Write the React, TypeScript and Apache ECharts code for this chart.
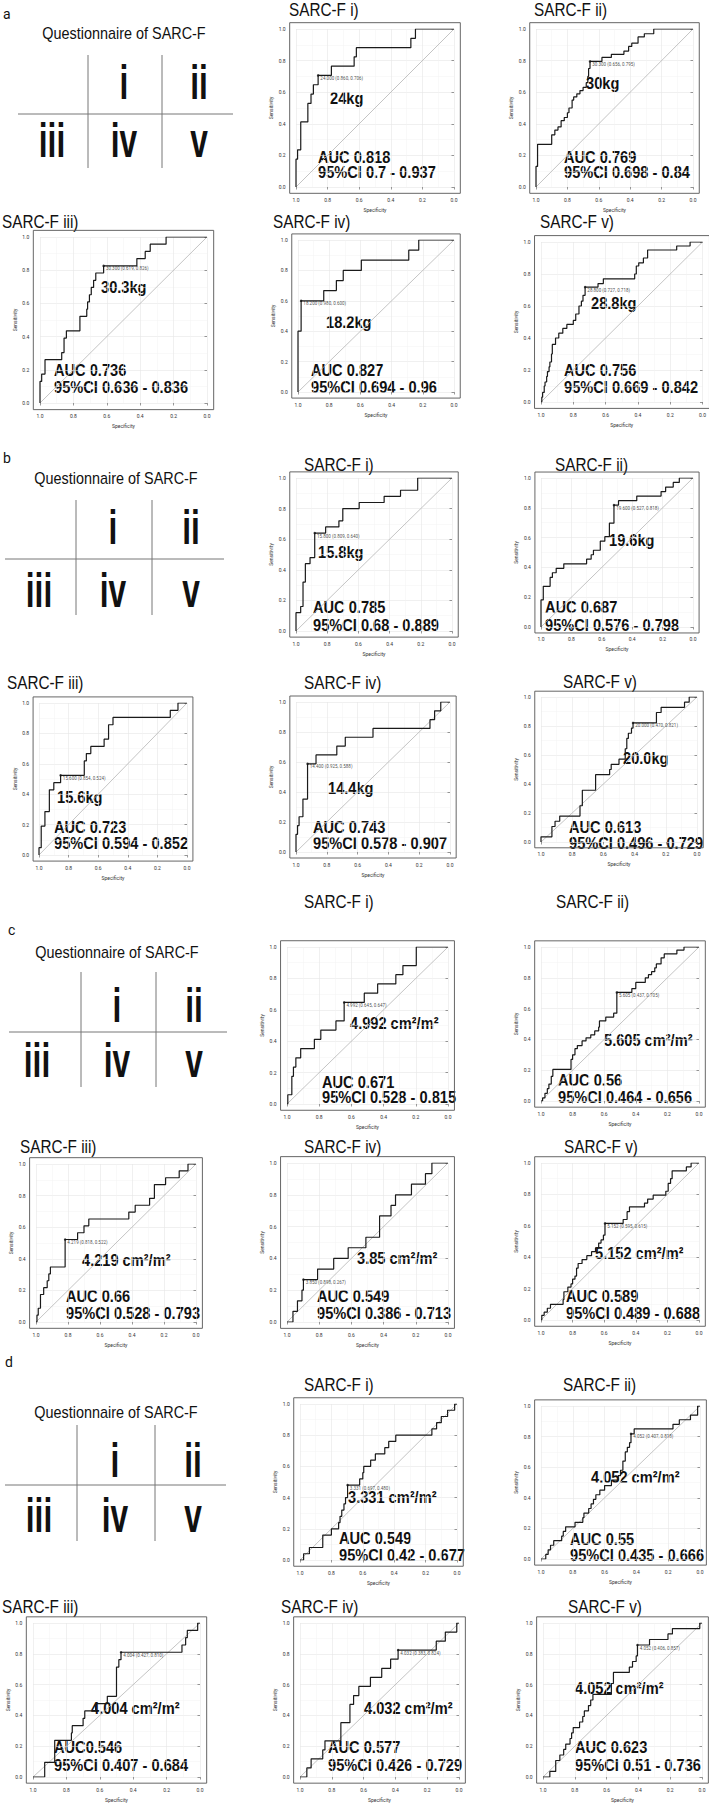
import React, { useEffect, useRef } from "react";
import * as echarts from "echarts";

const FONT = "'Liberation Sans', Arial, sans-serif";
const SMALL_FONT = "Roboto, 'Liberation Sans', sans-serif";

// ---------- ROC curves: [specificity, sensitivity] corner points ----------
const rocA1 = [[1,0],[1,0.176],[0.99,0.235],[0.97,0.412],[0.925,0.529],[0.905,0.588],[0.89,0.647],[0.86,0.706],[0.776,0.765],[0.632,0.824],[0.618,0.882],[0.273,0.941],[0.244,1],[0,1]];
const rocA2 = [[1,0],[1,0.13],[0.99,0.27],[0.9,0.33],[0.88,0.36],[0.86,0.38],[0.84,0.42],[0.82,0.44],[0.8,0.47],[0.79,0.5],[0.77,0.55],[0.76,0.57],[0.74,0.59],[0.72,0.61],[0.7,0.63],[0.68,0.66],[0.67,0.7],[0.665,0.75],[0.656,0.795],[0.58,0.82],[0.52,0.84],[0.44,0.86],[0.41,0.89],[0.39,0.91],[0.35,0.95],[0.31,0.97],[0.25,1],[0,1]];
const rocA3 = [[1,0],[1,0.13],[0.99,0.174],[0.97,0.261],[0.87,0.304],[0.856,0.391],[0.842,0.435],[0.761,0.522],[0.72,0.565],[0.715,0.609],[0.704,0.652],[0.693,0.696],[0.679,0.739],[0.666,0.783],[0.619,0.826],[0.42,0.87],[0.37,0.913],[0.34,0.957],[0.245,1],[0,1]];
const rocA4 = [[1,0],[1,0.4],[0.98,0.6],[0.835,0.667],[0.754,0.733],[0.71,0.8],[0.594,0.867],[0.29,0.933],[0.226,1],[0,1]];
const rocA5 = [[1,0],[0.995,0.03],[0.99,0.06],[0.98,0.1],[0.975,0.125],[0.965,0.16],[0.96,0.19],[0.95,0.22],[0.945,0.25],[0.935,0.3],[0.93,0.36],[0.91,0.4],[0.89,0.43],[0.865,0.46],[0.84,0.485],[0.8,0.51],[0.785,0.55],[0.765,0.6],[0.75,0.63],[0.74,0.667],[0.727,0.718],[0.647,0.74],[0.614,0.77],[0.42,0.8],[0.41,0.85],[0.395,0.87],[0.366,0.9],[0.34,0.95],[0.16,0.975],[0.077,1],[0,1]];

const rocB1 = [[1,0],[1,0.12],[0.97,0.16],[0.955,0.32],[0.94,0.44],[0.91,0.48],[0.88,0.64],[0.81,0.68],[0.725,0.72],[0.7,0.8],[0.595,0.84],[0.435,0.88],[0.33,0.92],[0.22,1],[0,1]];
const rocB2 = [[1,0],[1,0.182],[0.985,0.273],[0.94,0.333],[0.925,0.364],[0.9,0.394],[0.85,0.424],[0.7,0.455],[0.67,0.485],[0.655,0.515],[0.61,0.576],[0.58,0.606],[0.55,0.697],[0.52,0.818],[0.49,0.848],[0.37,0.879],[0.21,0.909],[0.18,0.939],[0.13,0.97],[0.09,1],[0,1]];
const rocB3 = [[1,0],[1,0.048],[0.985,0.19],[0.96,0.286],[0.93,0.429],[0.9,0.476],[0.854,0.524],[0.694,0.619],[0.68,0.667],[0.65,0.714],[0.56,0.762],[0.53,0.857],[0.5,0.905],[0.113,0.952],[0.061,1],[0,1]];
const rocB4 = [[1,0],[1,0.118],[0.99,0.176],[0.98,0.235],[0.955,0.353],[0.925,0.588],[0.87,0.647],[0.735,0.706],[0.68,0.765],[0.5,0.824],[0.13,0.882],[0.1,0.941],[0.06,1],[0,1]];
const rocB5 = [[1,0],[1,0.036],[0.93,0.107],[0.91,0.143],[0.88,0.179],[0.75,0.25],[0.735,0.357],[0.65,0.464],[0.56,0.5],[0.55,0.536],[0.5,0.571],[0.46,0.643],[0.45,0.714],[0.44,0.75],[0.42,0.786],[0.41,0.821],[0.26,0.893],[0.23,0.929],[0.08,0.964],[0.05,1],[0,1]];

const rocC1 = [[1,0],[0.995,0.059],[0.97,0.176],[0.96,0.235],[0.945,0.294],[0.915,0.353],[0.83,0.412],[0.79,0.471],[0.696,0.529],[0.645,0.647],[0.52,0.706],[0.437,0.765],[0.324,0.824],[0.28,0.882],[0.197,1],[0,1]];
const rocC2 = [[1,0],[0.99,0.02],[0.975,0.05],[0.96,0.08],[0.95,0.11],[0.935,0.16],[0.925,0.205],[0.81,0.27],[0.8,0.3],[0.785,0.34],[0.77,0.36],[0.74,0.39],[0.715,0.41],[0.685,0.43],[0.66,0.455],[0.635,0.48],[0.63,0.52],[0.59,0.545],[0.54,0.57],[0.52,0.705],[0.425,0.73],[0.4,0.77],[0.34,0.8],[0.32,0.82],[0.3,0.84],[0.28,0.865],[0.27,0.89],[0.24,0.93],[0.22,0.955],[0.14,0.98],[0.095,1],[0,1]];
const rocC3 = [[1,0],[0.994,0.043],[0.986,0.087],[0.972,0.174],[0.952,0.217],[0.93,0.261],[0.92,0.304],[0.91,0.348],[0.818,0.522],[0.74,0.565],[0.7,0.609],[0.67,0.652],[0.42,0.696],[0.38,0.739],[0.29,0.783],[0.26,0.87],[0.19,0.913],[0.105,0.957],[0.05,1],[0,1]];
const rocC4 = [[1,0],[0.963,0.067],[0.935,0.133],[0.907,0.2],[0.898,0.267],[0.81,0.333],[0.71,0.4],[0.62,0.467],[0.51,0.533],[0.425,0.667],[0.354,0.733],[0.326,0.8],[0.227,0.867],[0.14,0.933],[0.1,1],[0,1]];
const rocC5 = [[1,0],[0.995,0.03],[0.98,0.05],[0.96,0.075],[0.94,0.1],[0.86,0.13],[0.855,0.18],[0.83,0.21],[0.81,0.23],[0.8,0.26],[0.785,0.28],[0.775,0.33],[0.765,0.36],[0.74,0.385],[0.71,0.41],[0.68,0.435],[0.655,0.46],[0.635,0.49],[0.62,0.51],[0.605,0.54],[0.595,0.615],[0.48,0.64],[0.455,0.69],[0.44,0.72],[0.345,0.745],[0.325,0.77],[0.29,0.795],[0.21,0.82],[0.195,0.87],[0.18,0.9],[0.17,0.95],[0.08,0.975],[0.05,1],[0,1]];

const rocD1 = [[1,0],[0.977,0.04],[0.94,0.08],[0.855,0.16],[0.8,0.2],[0.754,0.24],[0.745,0.28],[0.734,0.32],[0.72,0.36],[0.71,0.4],[0.697,0.48],[0.62,0.52],[0.6,0.56],[0.594,0.6],[0.55,0.64],[0.52,0.68],[0.46,0.72],[0.435,0.76],[0.39,0.8],[0.16,0.84],[0.13,0.88],[0.1,0.92],[0.06,0.96],[0.015,1],[0,1]];
const rocD2 = [[1,0],[0.97,0.03],[0.955,0.06],[0.94,0.09],[0.92,0.12],[0.87,0.15],[0.86,0.18],[0.845,0.21],[0.786,0.24],[0.737,0.27],[0.73,0.3],[0.7,0.33],[0.685,0.36],[0.67,0.39],[0.655,0.42],[0.63,0.45],[0.6,0.48],[0.557,0.515],[0.514,0.545],[0.5,0.58],[0.485,0.64],[0.47,0.7],[0.457,0.73],[0.443,0.76],[0.434,0.818],[0.414,0.85],[0.17,0.88],[0.13,0.91],[0.06,0.94],[0.015,1],[0,1]];
const rocD3 = [[1,0],[0.93,0.095],[0.87,0.238],[0.77,0.286],[0.765,0.333],[0.7,0.381],[0.69,0.429],[0.625,0.476],[0.555,0.524],[0.5,0.714],[0.486,0.762],[0.473,0.81],[0.108,0.857],[0.086,0.905],[0.076,0.952],[0.014,1],[0,1]];
const rocD4 = [[1,0],[0.957,0.059],[0.93,0.118],[0.857,0.176],[0.843,0.235],[0.743,0.353],[0.686,0.471],[0.663,0.529],[0.63,0.588],[0.557,0.647],[0.486,0.706],[0.43,0.765],[0.383,0.824],[0.143,0.882],[0.086,0.941],[0.014,1],[0,1]];
const rocD5 = [[1,0],[0.957,0.036],[0.92,0.107],[0.894,0.143],[0.87,0.179],[0.857,0.214],[0.83,0.25],[0.82,0.286],[0.81,0.321],[0.77,0.357],[0.75,0.393],[0.74,0.429],[0.714,0.464],[0.7,0.5],[0.686,0.536],[0.57,0.607],[0.557,0.679],[0.457,0.714],[0.437,0.75],[0.414,0.786],[0.406,0.857],[0.33,0.893],[0.214,0.929],[0.186,0.964],[0.014,1],[0,1]];

const CURVES = [rocA1, rocA2, rocA3, rocA4, rocA5, rocB1, rocB2, rocB3, rocB4, rocB5, rocC1, rocC2, rocC3, rocC4, rocC5, rocD1, rocD2, rocD3, rocD4, rocD5];

// best thresholds: [specificity, sensitivity]
const thresholdPoints = [
  [0.86, 0.706], [0.656, 0.795], [0.619, 0.826], [0.98, 0.6], [0.727, 0.718],
  [0.88, 0.64], [0.52, 0.818], [0.854, 0.524], [0.925, 0.588], [0.41, 0.821],
  [0.645, 0.647], [0.52, 0.705], [0.818, 0.522], [0.898, 0.267], [0.595, 0.615],
  [0.697, 0.48], [0.434, 0.818], [0.473, 0.81], [0.383, 0.824], [0.406, 0.857],
];
const thresholdLabels = [
  "24.000 (0.860, 0.706)", "30.300 (0.656, 0.795)", "30.300 (0.619, 0.826)", "18.200 (0.980, 0.600)", "28.800 (0.727, 0.718)",
  "15.800 (0.809, 0.640)", "19.600 (0.527, 0.818)", "15.600 (0.854, 0.524)", "14.400 (0.925, 0.588)", "20.000 (0.470, 0.821)",
  "4.992 (0.645, 0.647)", "5.605 (0.437, 0.705)", "4.219 (0.818, 0.522)", "3.850 (0.898, 0.267)", "5.152 (0.595, 0.615)",
  "3.331 (0.697, 0.480)", "4.052 (0.407, 0.818)", "4.004 (0.427, 0.810)", "4.032 (0.383, 0.824)", "4.052 (0.406, 0.857)",
];

const plotTitles = ["SARC-F i)", "SARC-F ii)", "SARC-F iii)", "SARC-F iv)", "SARC-F v)"];
const panelLetters = ["a", "b", "c", "d"];
const cutoffs = [
  "24kg", "30kg", "30.3kg", "18.2kg", "28.8kg",
  "15.8kg", "19.6kg", "15.6kg", "14.4kg", "20.0kg",
  "4.992 cm²/m²", "5.605 cm²/m²", "4.219 cm²/m²", "3.85 cm²/m²", "5.152 cm²/m²",
  "3.331 cm²/m²", "4.052 cm²/m²", "4.004 cm²/m²", "4.032 cm²/m²", "4.052 cm²/m²",
];
const aucTexts = [
  "AUC 0.818", "AUC 0.769", "AUC 0.736", "AUC 0.827", "AUC 0.756",
  "AUC 0.785", "AUC 0.687", "AUC 0.723", "AUC 0.743", "AUC 0.613",
  "AUC 0.671", "AUC 0.56", "AUC 0.66", "AUC 0.549", "AUC 0.589",
  "AUC 0.549", "AUC 0.55", "AUC0.546", "AUC 0.577", "AUC 0.623",
];
const ciTexts = [
  "95%CI 0.7 - 0.937", "95%CI 0.698 - 0.84", "95%CI 0.636 - 0.836", "95%CI 0.694 - 0.96", "95%CI 0.669 - 0.842",
  "95%CI 0.68 - 0.889", "95%CI 0.576 - 0.798", "95%CI 0.594 - 0.852", "95%CI 0.578 - 0.907", "95%CI 0.496 - 0.729",
  "95%CI 0.528 - 0.815", "95%CI 0.464 - 0.656", "95%CI 0.528 - 0.793", "95%CI 0.386 - 0.713", "95%CI 0.489 - 0.688",
  "95%CI 0.42 - 0.677", "95%CI 0.435 - 0.666", "95%CI 0.407 - 0.684", "95%CI 0.426 - 0.729", "95%CI 0.51 - 0.736",
];
const tickLabels = ["0.0", "0.2", "0.4", "0.6", "0.8", "1.0"];
const romanCells = ["i", "ii", "iii", "iv", "v"];

// ---------- layout (pixels) ----------
// data area of each plot: [x at spec 1.0, x at spec 0.0, y at sens 1.0, y at sens 0.0]
const BOX = [
  [296, 454, 29, 187], [536, 693, 29, 187], [40, 207, 237, 403], [298, 454, 240, 392], [541, 703, 242, 402],
  [296, 452, 478, 631], [541, 693, 478, 627], [39, 187, 703, 855], [296, 450, 702, 852], [541, 697, 697, 842],
  [287, 448, 947, 1104], [541, 699, 947, 1101], [36, 196, 1164, 1322], [287, 448, 1163, 1322], [541, 699, 1163, 1320],
  [300, 457, 1404, 1560], [541, 700, 1406, 1559], [33, 200, 1623, 1777], [300, 459, 1623, 1777], [543, 702, 1623, 1777],
];
const TITLE_POS = [
  [289, 10], [534, 10], [2, 222], [273, 222], [540, 222],
  [304, 465], [555, 465], [7, 683], [304, 683], [563, 682],
  [304, 902], [556, 902], [20, 1147], [304, 1147], [564, 1147],
  [304, 1385], [563, 1385], [2, 1607], [281, 1607], [568, 1607],
];
const CUT_POS = [
  [330, 98], [586, 83], [101, 287], [326, 322], [591, 303],
  [318, 552], [609, 540], [57, 797], [328, 788], [623, 758],
  [350, 1023], [604, 1040], [82, 1260], [357, 1258], [595, 1253],
  [348, 1497], [591, 1477], [91, 1708], [364, 1708], [575, 1688],
];
// [x, y of AUC, y of CI]
const AUC_POS = [
  [318, 157, 172], [564, 157, 172], [54, 370, 387], [311, 370, 387], [564, 370, 387],
  [313, 607, 625], [545, 607, 625], [54, 827, 843], [313, 827, 843], [569, 827, 843],
  [322, 1082, 1097], [558, 1080, 1097], [66, 1296, 1313], [317, 1296, 1313], [566, 1296, 1313],
  [339, 1538, 1555], [570, 1539, 1555], [54, 1747, 1765], [328, 1747, 1765], [575, 1747, 1765],
];
const LETTER_POS = [[3, 14], [3, 458], [8, 930], [5, 1362]];
// questionnaire: [titleCx, titleY, v1x, v2x, vTop, vBot, hY, hX0, hX1, row1Y, row2Y, col0, col1, col2]
const QUEST = [
  [124, 33, 88, 162, 55, 168, 114, 18, 233, 82, 140, 52, 124, 199],
  [116, 478, 76, 152, 500, 615, 559, 5, 224, 527, 590, 39, 113, 191],
  [117, 952, 81, 156, 972, 1087, 1032, 9, 227, 1005, 1060, 37, 117, 194],
  [116, 1412, 77, 155, 1425, 1541, 1485, 5, 226, 1460, 1515, 39, 115, 193],
];

function buildOption() {
  const grid: any[] = [];
  const xAxis: any[] = [];
  const yAxis: any[] = [];
  const series: any[] = [];
  const graphic: any[] = [];

  const bigText = (text: string, x: number, y: number, size: number, weight: any, sx: number, align = "left") => ({
    type: "text",
    x,
    y,
    scaleX: sx,
    scaleY: 1,
    silent: true,
    style: { text, fontSize: size, fontFamily: FONT, fontWeight: weight, fill: "#111", align, verticalAlign: "middle" },
  });

  BOX.forEach((b, i) => {
    const [xl, xr, yt, yb] = b;
    const w = xr - xl;
    const h = yb - yt;
    const px = 0.04 * w;
    const py = 0.04 * h;
    grid.push({ left: xl, top: yt, width: w, height: h });
    const axisCommon = {
      gridIndex: i,
      type: "value",
      min: 0,
      max: 1,
      interval: 0.2,
      axisLine: { show: false },
      axisTick: { show: true, length: 2.5, lineStyle: { color: "#555", width: 0.6 } },
      axisLabel: {
        fontSize: 5,
        color: "#333",
        fontFamily: SMALL_FONT,
        formatter: (v: number) => tickLabels[Math.round(v * 5)],
      },
      splitLine: { show: true, lineStyle: { color: "#e6e6e6", width: 0.6 } },
      minorTick: { show: false, splitNumber: 2 },
      minorSplitLine: { show: true, lineStyle: { color: "#f2f2f2", width: 0.5 } },
      nameLocation: "middle",
      nameTextStyle: { fontSize: 5, color: "#333", fontFamily: SMALL_FONT },
    };
    xAxis.push({
      ...axisCommon,
      inverse: true,
      offset: py,
      name: "Specificity",
      nameGap: 14,
      axisLabel: { ...axisCommon.axisLabel, margin: 4 },
    });
    yAxis.push({
      ...axisCommon,
      offset: px,
      name: "Sensitivity",
      nameGap: 16,
      nameRotate: 90,
      axisLabel: { ...axisCommon.axisLabel, margin: 4 },
    });
    series.push({
      type: "line",
      xAxisIndex: i,
      yAxisIndex: i,
      data: [[1, 0], [0, 1]],
      symbol: "none",
      silent: true,
      lineStyle: { color: "#b5b5b5", width: 0.8 },
      z: 2,
    });
    series.push({
      type: "line",
      xAxisIndex: i,
      yAxisIndex: i,
      step: "end",
      data: CURVES[i],
      symbol: "none",
      silent: true,
      lineStyle: { color: "#1a1a1a", width: 1.2 },
      z: 3,
    });
    series.push({
      type: "scatter",
      xAxisIndex: i,
      yAxisIndex: i,
      data: [thresholdPoints[i]],
      symbolSize: 2.5,
      silent: true,
      itemStyle: { color: "#111" },
      label: {
        show: true,
        position: "right",
        distance: 1,
        offset: [0, 3],
        formatter: () => thresholdLabels[i],
        fontSize: 4.5,
        color: "#222",
        fontFamily: SMALL_FONT,
      },
      z: 4,
    });
    // frame
    graphic.push({
      type: "rect",
      silent: true,
      shape: { x: xl - px, y: yt - py, width: w + 2 * px, height: h + 2 * py },
      style: { fill: "none", stroke: "#555", lineWidth: 0.9 },
      z: 10,
    });
    graphic.push(bigText(plotTitles[i % 5], TITLE_POS[i][0], TITLE_POS[i][1], 18, "normal", 0.85));
    graphic.push(bigText(cutoffs[i], CUT_POS[i][0], CUT_POS[i][1], 17, "bold", 0.86));
    graphic.push(bigText(aucTexts[i], AUC_POS[i][0], AUC_POS[i][1], 17, "bold", 0.86));
    graphic.push(bigText(ciTexts[i], AUC_POS[i][0], AUC_POS[i][2], 17, "bold", 0.86));
  });

  QUEST.forEach((q, p) => {
    const [tcx, ty, v1, v2, vt, vb, hy, hx0, hx1, r1, r2, c0, c1, c2] = q;
    graphic.push({
      type: "text",
      x: LETTER_POS[p][0],
      y: LETTER_POS[p][1],
      silent: true,
      style: { text: panelLetters[p], fontSize: 14, fontFamily: SMALL_FONT, fill: "#111", verticalAlign: "middle" },
    });
    graphic.push(bigText("Questionnaire of SARC-F", tcx, ty, 16, "normal", 0.9, "center"));
    const lineStyle = { stroke: "#777", lineWidth: 1 };
    graphic.push({ type: "line", silent: true, shape: { x1: v1, y1: vt, x2: v1, y2: vb }, style: lineStyle });
    graphic.push({ type: "line", silent: true, shape: { x1: v2, y1: vt, x2: v2, y2: vb }, style: lineStyle });
    graphic.push({ type: "line", silent: true, shape: { x1: hx0, y1: hy, x2: hx1, y2: hy }, style: lineStyle });
    const cells = [[c1, r1], [c2, r1], [c0, r2], [c1, r2], [c2, r2]];
    cells.forEach((c, k) => {
      graphic.push(bigText(romanCells[k], c[0], c[1], 48, "bold", 0.66, "center"));
    });
  });

  return { animation: false, backgroundColor: "#fff", grid, xAxis, yAxis, series, graphic };
}

export default function App() {
  const ref = useRef<HTMLDivElement>(null);
  useEffect(() => {
    document.body.style.margin = "0";
    const chart = echarts.init(ref.current!, null, { renderer: "svg", width: 709, height: 1806 });
    chart.setOption(buildOption());
    return () => chart.dispose();
  }, []);
  return <div ref={ref} style={{ width: 709, height: 1806 }} />;
}
